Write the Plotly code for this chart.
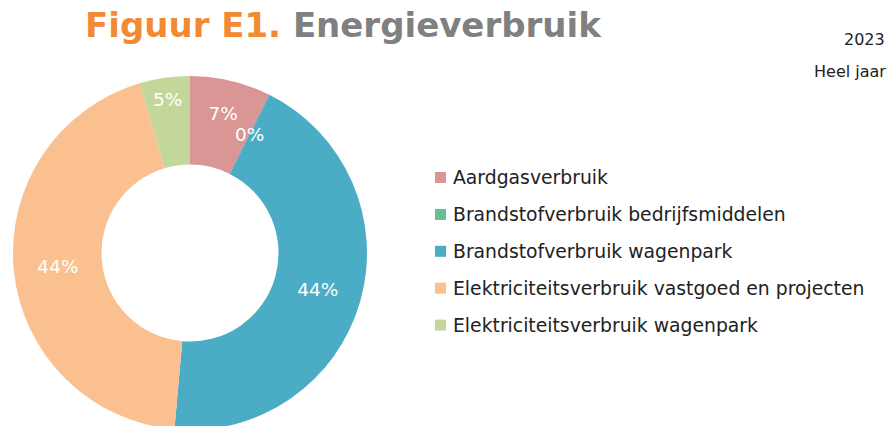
import math
import plotly.graph_objects as go

labels = ["Aardgasverbruik", "Brandstofverbruik bedrijfsmiddelen", "Brandstofverbruik wagenpark",
          "Elektriciteitsverbruik vastgoed en projecten", "Elektriciteitsverbruik wagenpark"]
values = [7.4, 0.0, 44.0, 44.0, 4.6]
colors = ["#D99694", "#6ABD90", "#4BACC6", "#FAC090", "#C4D79B"]

W, H = 891, 432


def px(x):
    return x / W


def py(y):
    return 1 - y / H


CX, CY, R, HOLE = 190, 253, 177, 0.5
total = sum(values)
texts = ["" if v == 0 else "%{percent:.0%}" for v in values]

fig = go.Figure(go.Pie(
    labels=labels, values=values, sort=False, direction="clockwise", rotation=0,
    hole=HOLE, marker=dict(colors=colors, line=dict(width=0)),
    texttemplate=texts, textposition="inside", insidetextorientation="horizontal",
    textfont=dict(family="DejaVu Sans", size=18.5, color="white"),
    domain=dict(x=[px(CX - R), px(CX + R)], y=[py(CY + R), py(CY - R)]),
    showlegend=False, hoverinfo="label+percent",
))

annotations = [
    dict(text="<b><span style='color:#F28A33'>Figuur E1.</span> <span style='color:#808080'>Energieverbruik</span></b>",
         x=px(83), y=py(25), xref="paper", yref="paper", xanchor="left", yanchor="middle",
         showarrow=False, font=dict(family="DejaVu Sans", size=34)),
    dict(text="2023", x=px(887), y=py(39), xref="paper", yref="paper", xanchor="right", yanchor="middle",
         showarrow=False, font=dict(family="DejaVu Sans", size=16, color="#222222")),
    dict(text="Heel jaar", x=px(888), y=py(72), xref="paper", yref="paper", xanchor="right", yanchor="middle",
         showarrow=False, font=dict(family="DejaVu Sans", size=16, color="#222222")),
]

# label for zero-valued slices, placed at the slice boundary (mid-ring)
cum = 0.0
for lab, v in zip(labels, values):
    if v == 0:
        ang = 2 * math.pi * cum / total
        rm = R * (1 + HOLE) / 2
        annotations.append(dict(text="0%", x=px(CX + rm * math.sin(ang)), y=py(CY - rm * math.cos(ang)),
                                xref="paper", yref="paper", xanchor="center", yanchor="middle",
                                showarrow=False, font=dict(family="DejaVu Sans", size=18.5, color="white")))
    cum += v

shapes = []
row0, step = 177.5, 36.9
for i, (lab, col) in enumerate(zip(labels, colors)):
    yc = row0 + i * step
    shapes.append(dict(type="rect", xref="paper", yref="paper",
                       x0=px(435), x1=px(446), y0=py(yc - 5.5), y1=py(yc + 5.5),
                       fillcolor=col, line=dict(width=0)))
    annotations.append(dict(text=lab, x=px(451), y=py(yc), xref="paper", yref="paper",
                            xanchor="left", yanchor="middle", showarrow=False,
                            font=dict(family="DejaVu Sans", size=18.8, color="#222222")))

fig.update_layout(
    width=W, height=H, margin=dict(l=0, r=0, t=0, b=0),
    paper_bgcolor="white", plot_bgcolor="white",
    annotations=annotations, shapes=shapes,
    uniformtext=dict(minsize=18, mode="show"),
)
fig.write_html("out.html", config={"displayModeBar": False},
               post_script="document.body.style.margin='0';document.body.style.overflow='hidden';")
